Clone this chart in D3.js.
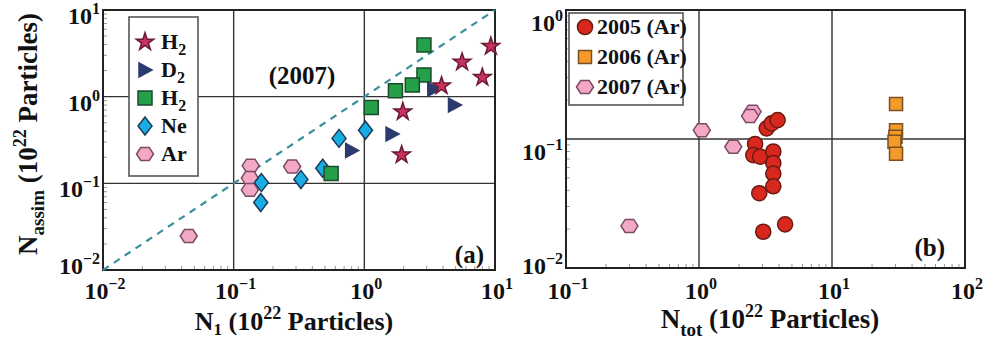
<!DOCTYPE html>
<html>
<head>
<meta charset="utf-8">
<script src="https://cdn.jsdelivr.net/npm/d3@7"></script>
<style>
  body { margin: 0; background: #fff; }
  text { font-family: "Liberation Serif", "Times New Roman", serif; font-weight: bold; fill: #111; }
</style>
</head>
<body>
<svg id="chart" width="986" height="345"></svg>
<script>
// panel (a): N1 vs Nassim, [N1, Nassim] pairs
var h2Stars   = [[9.3, 3.8], [5.6, 2.5], [8.0, 1.67], [3.9, 1.33], [1.97, 0.67], [1.93, 0.213]];
var d2Tri     = [[3.4, 1.22], [4.9, 0.80], [1.63, 0.37], [0.80, 0.24]];
var h2Squares = [[2.86, 3.95], [2.86, 1.78], [2.33, 1.36], [1.73, 1.17], [1.13, 0.75], [0.557, 0.13]];
var neDiamond = [[1.02, 0.41], [0.64, 0.33], [0.48, 0.149], [0.327, 0.111], [0.163, 0.102], [0.161, 0.06]];
var arHex     = [[0.135, 0.16], [0.133, 0.115], [0.133, 0.084], [0.28, 0.156], [0.0453, 0.0247]];

// panel (b): Ntot vs Nassim
var ar2005 = [[2.64, 0.0915], [2.56, 0.075], [2.88, 0.073], [3.23, 0.121], [3.52, 0.132], [3.9, 0.140],
              [3.62, 0.080], [3.62, 0.065], [3.62, 0.054], [3.62, 0.043], [2.84, 0.038], [3.04, 0.0191], [4.44, 0.0218]];
var ar2006 = [[30.3, 0.187], [30.3, 0.117], [30.0, 0.104], [29.5, 0.095], [30.3, 0.077]];
var ar2007 = [[1.05, 0.117], [1.81, 0.087], [2.53, 0.163], [2.42, 0.151], [0.30, 0.0212]];

var leftXTicks = [-2, -1, 0, 1];
var leftYTicks = [-2, -1, 0, 1];
var rightXTicks = [-1, 0, 1, 2];
var rightYTicks = [-2, -1, 0];

var svg = d3.select("#chart");

function hexPath(r) {
  var pts = d3.range(6).map(function(i) {
    var a = i * Math.PI / 3;
    return [r * Math.cos(a), r * 0.88 * Math.sin(a)];
  });
  return "M" + pts.join("L") + "Z";
}
var triPath = "M-6,-7L7,0L-6,7Z";
var diamondPath = "M0,-9L7,0L0,9L-7,0Z";
var squarePath = function(s) { return "M" + (-s) + "," + (-s) + "h" + 2 * s + "v" + 2 * s + "h" + (-2 * s) + "Z"; };
var starPath = d3.symbol().type(d3.symbolStar).size(95)();
var circlePath = d3.symbol().type(d3.symbolCircle).size(180)();

var styles = {
  star:   { d: starPath, fill: "#c8325e", stroke: "#6a1a32" },
  tri:    { d: triPath, fill: "#2c3b6e", stroke: "#2c3b6e" },
  square: { d: squarePath(7), fill: "#25a04a", stroke: "#1c4a2a" },
  diamond:{ d: diamondPath, fill: "#19aee3", stroke: "#1c3a5a" },
  hex:    { d: hexPath(8.5), fill: "#f3a9c4", stroke: "#7a4a66" },
  circle: { d: circlePath, fill: "#d8281e", stroke: "#6e1a14" },
  osq:    { d: squarePath(6.5), fill: "#f49a2c", stroke: "#7a5020" }
};

function powLabel(g, x, y, exp, anchor) {
  var t = g.append("text").attr("x", x).attr("y", y).attr("text-anchor", anchor).style("font-size", "24px");
  t.append("tspan").text("10");
  t.append("tspan").attr("dy", -10).style("font-size", "16px").text(exp < 0 ? "\u2212" + (-exp) : exp);
}

function drawPanel(cfg) {
  var g = svg.append("g");
  var x = d3.scaleLog().domain(cfg.xDom).range(cfg.xRange);
  var y = d3.scaleLog().domain(cfg.yDom).range(cfg.yRange);

  // minor ticks inside, left and bottom
  var minorX = x.ticks().filter(function(v) { return Math.abs(Math.log10(v) - Math.round(Math.log10(v))) > 1e-6; });
  var minorY = y.ticks().filter(function(v) { return Math.abs(Math.log10(v) - Math.round(Math.log10(v))) > 1e-6; });
  g.selectAll(".mx").data(minorX).enter().append("line")
    .attr("x1", x).attr("x2", x).attr("y1", cfg.yRange[0]).attr("y2", cfg.yRange[0] - 4)
    .attr("stroke", "#999").attr("stroke-width", 1);
  g.selectAll(".my").data(minorY).enter().append("line")
    .attr("y1", y).attr("y2", y).attr("x1", cfg.xRange[0]).attr("x2", cfg.xRange[0] + 4)
    .attr("stroke", "#999").attr("stroke-width", 1);

  // decade grid
  g.selectAll(".gx").data(cfg.xTicks.slice(1, -1)).enter().append("line")
    .attr("x1", function(d) { return x(Math.pow(10, d)); }).attr("x2", function(d) { return x(Math.pow(10, d)); })
    .attr("y1", cfg.yRange[1]).attr("y2", cfg.yRange[0])
    .attr("stroke", "#333").attr("stroke-width", 1.4);
  g.selectAll(".gy").data(cfg.yTicks.slice(1, -1)).enter().append("line")
    .attr("y1", function(d) { return y(Math.pow(10, d)); }).attr("y2", function(d) { return y(Math.pow(10, d)); })
    .attr("x1", cfg.xRange[0]).attr("x2", cfg.xRange[1])
    .attr("stroke", "#333").attr("stroke-width", 1.4);

  g.append("rect")
    .attr("x", cfg.xRange[0]).attr("y", cfg.yRange[1])
    .attr("width", cfg.xRange[1] - cfg.xRange[0]).attr("height", cfg.yRange[0] - cfg.yRange[1])
    .attr("fill", "none").attr("stroke", "#222").attr("stroke-width", 2);

  cfg.xTicks.forEach(function(e) { powLabel(g, x(Math.pow(10, e)) + 2, 299, e, "middle"); });
  cfg.yTicks.forEach(function(e) {
    powLabel(g, cfg.xRange[0] - 3, Math.min(y(Math.pow(10, e)) + cfg.yLabOff, 274), e, "end");
  });

  return { g: g, x: x, y: y };
}

function drawPoints(p, data, st) {
  p.g.append("g").selectAll("path").data(data).enter().append("path")
    .attr("transform", function(d) { return "translate(" + p.x(d[0]) + "," + p.y(d[1]) + ")"; })
    .attr("d", st.d).attr("fill", st.fill).attr("stroke", st.stroke).attr("stroke-width", 1.5);
}

function drawLegend(g, x0, y0, w, h, items, gap, textX) {
  g.append("rect").attr("x", x0).attr("y", y0).attr("width", w).attr("height", h)
    .attr("fill", "#fff").attr("stroke", "#555").attr("stroke-width", 1.6);
  items.forEach(function(it, i) {
    var cy = y0 + it.off + i * gap;
    g.append("path").attr("transform", "translate(" + (x0 + 16) + "," + cy + ")")
      .attr("d", it.st.d).attr("fill", it.st.fill).attr("stroke", it.st.stroke).attr("stroke-width", 1.5);
    var t = g.append("text").attr("x", x0 + textX).attr("y", cy + 7).style("font-size", "22px");
    t.append("tspan").text(it.label);
    if (it.sub) t.append("tspan").attr("dy", 6).style("font-size", "16px").text(it.sub);
  });
}

// ---------- panel (a)
var pa = drawPanel({ xDom: [0.01, 10], xRange: [103, 495], yDom: [0.01, 10], yRange: [270, 10],
  xTicks: leftXTicks, yTicks: leftYTicks, yLabOff: 14 });

pa.g.append("line")
  .attr("x1", pa.x(0.01)).attr("y1", pa.y(0.01)).attr("x2", pa.x(10)).attr("y2", pa.y(10))
  .attr("stroke", "#3a8f9e").attr("stroke-width", 2.2).attr("stroke-dasharray", "7,6");

drawLegend(pa.g, 129, 17, 69, 159, [
  { st: styles.star, label: "H", sub: "2", off: 25 },
  { st: styles.tri, label: "D", sub: "2", off: 25 },
  { st: styles.square, label: "H", sub: "2", off: 25 },
  { st: styles.diamond, label: "Ne", off: 25 },
  { st: styles.hex, label: "Ar", off: 25 }
], 28, 32);

pa.g.append("text").attr("x", 302).attr("y", 84).attr("text-anchor", "middle").style("font-size", "25px").text("(2007)");

drawPoints(pa, arHex, styles.hex);
drawPoints(pa, neDiamond, styles.diamond);
drawPoints(pa, h2Squares, styles.square);
drawPoints(pa, d2Tri, styles.tri);
drawPoints(pa, h2Stars, styles.star);

pa.g.append("text").attr("x", 484).attr("y", 263).attr("text-anchor", "end").style("font-size", "25px").text("(a)");

var xt = pa.g.append("text").attr("x", 294).attr("y", 330).attr("text-anchor", "middle").style("font-size", "26px");
xt.append("tspan").text("N");
xt.append("tspan").attr("dy", 5).style("font-size", "17px").text("1");
xt.append("tspan").attr("dy", -5).text(" (10");
xt.append("tspan").attr("dy", -11).style("font-size", "18px").text("22");
xt.append("tspan").attr("dy", 11).text(" Particles)");

var yt = pa.g.append("text").attr("transform", "translate(37,134) rotate(-90)").attr("text-anchor", "middle").style("font-size", "27px");
yt.append("tspan").text("N");
yt.append("tspan").attr("dy", 7).style("font-size", "19px").text("assim");
yt.append("tspan").attr("dy", -7).text(" (10");
yt.append("tspan").attr("dy", -11).style("font-size", "18px").text("22");
yt.append("tspan").attr("dy", 11).text(" Particles)");

// ---------- panel (b)
var pb = drawPanel({ xDom: [0.1, 100], xRange: [566, 965], yDom: [0.01, 1], yRange: [268, 10],
  xTicks: rightXTicks, yTicks: rightYTicks, yLabOff: 21 });

drawLegend(pb.g, 569, 13, 114, 92, [
  { st: styles.circle, label: "2005 (Ar)", off: 14 },
  { st: styles.osq, label: "2006 (Ar)", off: 14 },
  { st: styles.hex, label: "2007 (Ar)", off: 14 }
], 30, 28);

drawPoints(pb, ar2007, styles.hex);
drawPoints(pb, ar2006, styles.osq);
drawPoints(pb, ar2005, styles.circle);

pb.g.append("text").attr("x", 945).attr("y", 256).attr("text-anchor", "end").style("font-size", "25px").text("(b)");

var xt2 = pb.g.append("text").attr("x", 770).attr("y", 328).attr("text-anchor", "middle").style("font-size", "27px");
xt2.append("tspan").text("N");
xt2.append("tspan").attr("dy", 8).style("font-size", "19px").text("tot");
xt2.append("tspan").attr("dy", -8).text(" (10");
xt2.append("tspan").attr("dy", -11).style("font-size", "18px").text("22");
xt2.append("tspan").attr("dy", 11).text(" Particles)");
</script>
</body>
</html>
